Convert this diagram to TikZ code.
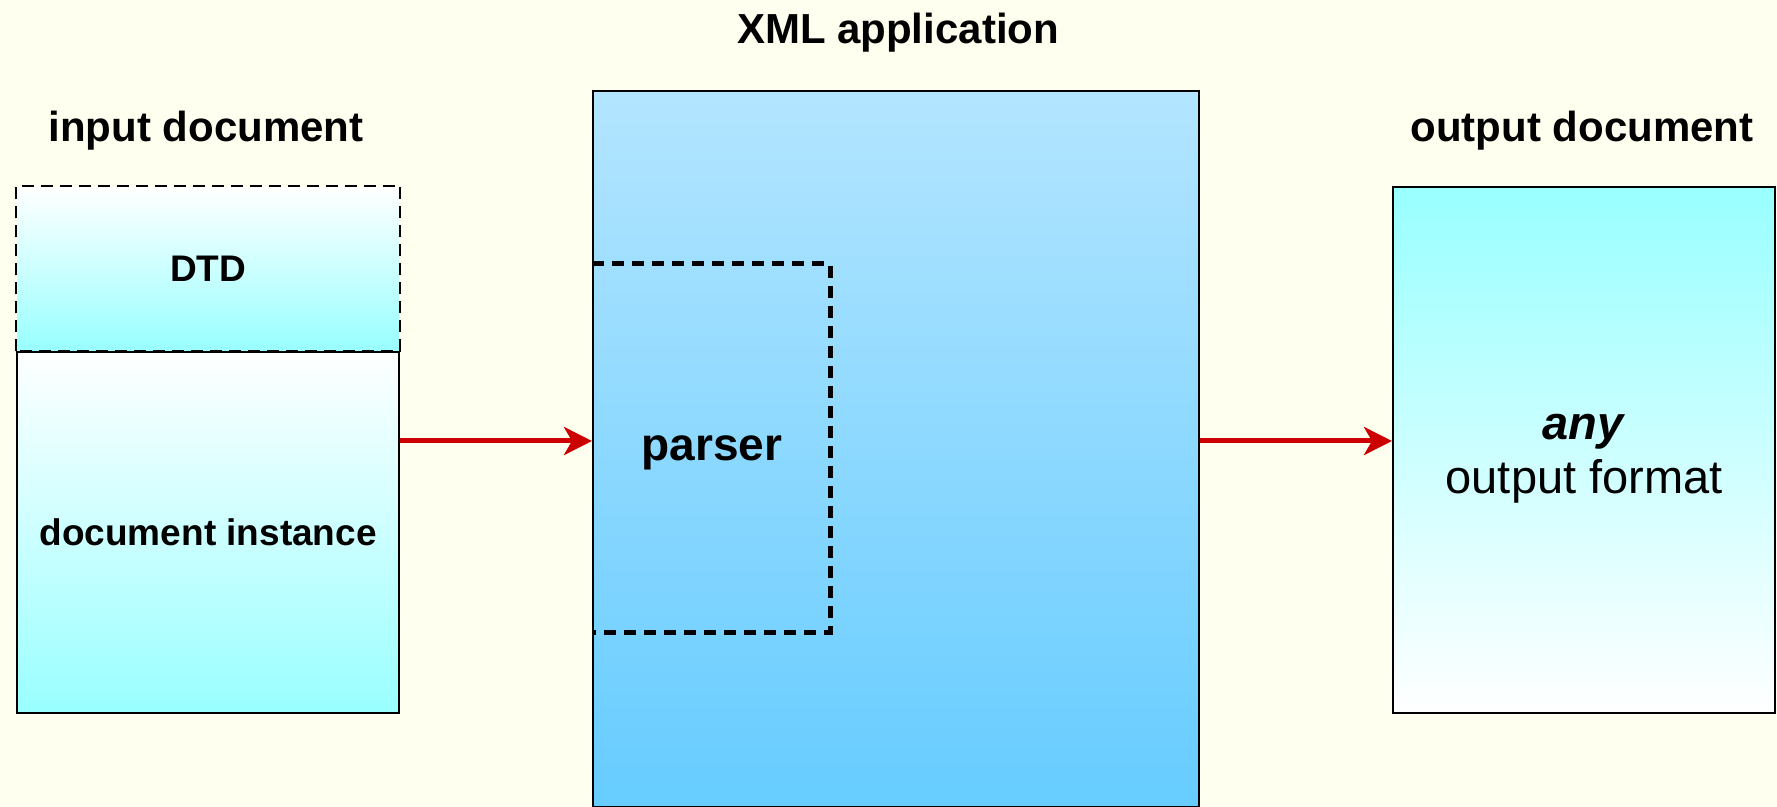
\documentclass[tikz,border=0pt]{standalone}
\usepackage{fontspec}
\setmainfont{Liberation Sans}
\usetikzlibrary{arrows.meta}
\definecolor{paper}{HTML}{FFFFF0}
\definecolor{aqua}{HTML}{99FFFF}
\definecolor{skytop}{HTML}{B3E5FF}
\definecolor{skybot}{HTML}{66CCFF}
\definecolor{flow}{HTML}{CC0000}
\begin{document}
\begin{tikzpicture}[x=0.5pt,y=-0.5pt,
  box/.style={draw=black, line width=1.15pt, rectangle, inner sep=0pt, anchor=north west, align=center},
  heading/.style={font=\fontsize{21}{25}\selectfont\bfseries},
  flowarrow/.style={draw=flow, line width=2.5pt, -{Stealth[length=14pt,width=14pt,inset=4pt]}},
  dashline/.style={line width=1.15pt, dash pattern=on 6pt off 3.5pt},
  thickdash/.style={line width=2.5pt, dash pattern=on 6pt off 4pt},
]
\fill[paper] (0,0) rectangle (1777,807);
\useasboundingbox (0,0) rectangle (1777,807);

% headings
\node[heading] (hin)  at (206,131) {input document};
\node[heading] (hxml) at (898,33)  {XML application};
\node[heading] (hout) at (1582,131) {output document};

% input document: DTD on top of the document instance
\node[box, draw=none, top color=white, bottom color=aqua,
      minimum width=191pt, minimum height=81.5pt,
      font=\fontsize{18.5}{22}\selectfont\bfseries] (dtd) at (16,186) {DTD};
\draw[dashline] (dtd.south west) rectangle (dtd.north east);
\node[box, top color=white, bottom color=aqua,
      minimum width=191pt, minimum height=180.5pt,
      font=\fontsize{18.5}{22}\selectfont\bfseries] (docinst) at (16,351) {document instance};

% XML application with its parser
\node[box, top color=skytop, bottom color=skybot,
      minimum width=303pt, minimum height=358pt] (xml) at (592,90) {};
\node[font=\fontsize{23}{27}\selectfont\bfseries] (parser) at (712,453) {parser};
\draw[thickdash] (592,264) -- (830,264) -- (830,632) -- (592,632);

% output document
\node[box, top color=aqua, bottom color=white,
      minimum width=191pt, minimum height=263pt] (out) at (1392,186) {};
\node[align=center, font=\fontsize{23.5}{27}\selectfont, yshift=-4.5pt]
      (outtext) at (out.center) {\textbf{\textit{any}}\\output format};

% data flow
\coordinate (lvl) at (0,441);
\draw[flowarrow] (docinst.east |- lvl) -- (xml.west |- lvl);
\draw[flowarrow] (xml.east |- lvl) -- (out.west |- lvl);
\end{tikzpicture}
\end{document}
